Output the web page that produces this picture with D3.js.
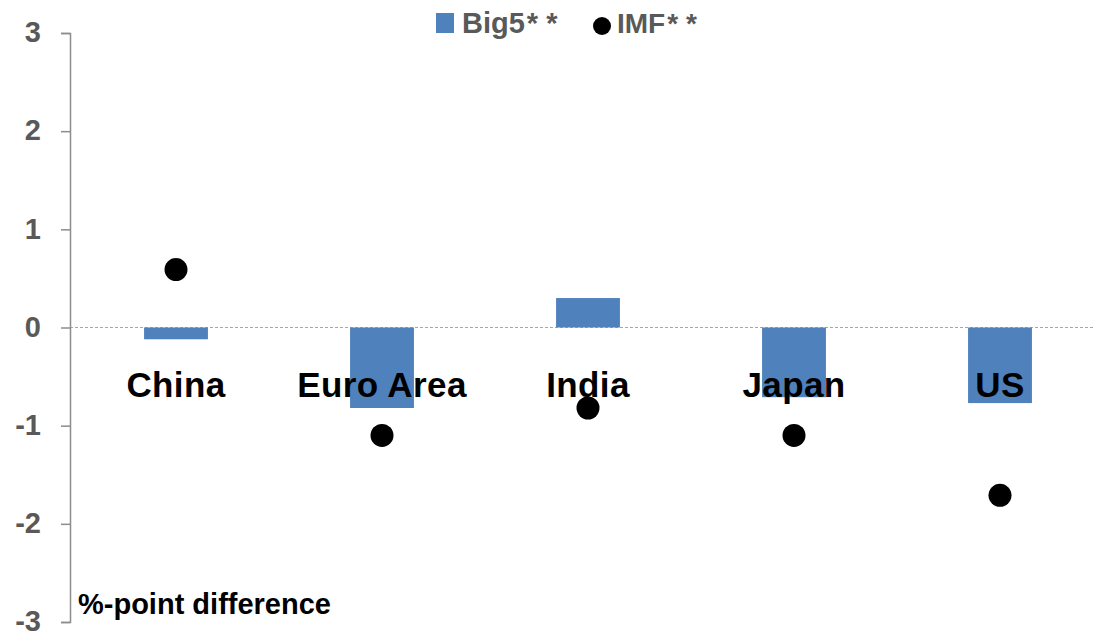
<!DOCTYPE html>
<html><head><meta charset="utf-8">
<script src="https://cdn.jsdelivr.net/npm/d3@7"></script>
<style>body{margin:0;background:#fff;} svg{display:block;font-family:"Liberation Sans",Arial,sans-serif;}</style>
</head><body><div id="chart"></div>
<script>
const categories = ["China", "Euro Area", "India", "Japan", "US"];
const big5 = [-0.12, -0.82, 0.30, -0.71, -0.77];
const imf = [0.59, -1.10, -0.82, -1.10, -1.71];
const yTicks = [-3, -2, -1, 0, 1, 2, 3];
const seriesNames = ["Big5", "IMF"];
const yLabel = "%-point difference";

const W = 1094, H = 633;
const svg = d3.select("#chart").append("svg").attr("width", W).attr("height", H);

const x = d3.scaleBand().domain(categories).range([73, 1103]).paddingInner(0.69).paddingOuter(0.345);
const y = d3.scaleLinear().domain([-3, 3]).range([622, 33]);
const axisX = 70;

// zero line
svg.append("line").attr("x1", axisX).attr("x2", W).attr("y1", y(0)).attr("y2", y(0))
  .attr("stroke", "#a6a6a6").attr("stroke-width", 1).attr("stroke-dasharray", "3,2");

// bars
svg.append("g").selectAll("rect").data(categories).join("rect")
  .attr("x", d => x(d))
  .attr("width", x.bandwidth())
  .attr("y", (d, i) => y(Math.max(0, big5[i])))
  .attr("height", (d, i) => Math.abs(y(big5[i]) - y(0)))
  .attr("fill", "#4F81BD");

// y axis
const yAxis = d3.axisLeft(y).tickValues(yTicks).tickSize(9).tickPadding(20).tickFormat(d => String(d));
const gy = svg.append("g").attr("transform", `translate(${axisX},0)`).call(yAxis);
gy.select(".domain").attr("stroke", "#8c8c8c").attr("stroke-width", 1.5);
gy.selectAll(".tick line").attr("stroke", "#8c8c8c").attr("stroke-width", 1.5);
gy.selectAll(".tick text").attr("fill", "#595959").attr("font-size", 29).attr("font-weight", "bold")
  .attr("font-family", "'Liberation Sans',Arial,sans-serif").attr("dy", "0.3em");

// category labels
svg.append("g").selectAll("text").data(categories).join("text")
  .attr("x", d => x(d) + x.bandwidth() / 2)
  .attr("y", 397)
  .attr("text-anchor", "middle")
  .attr("font-size", 35).attr("font-weight", "bold").attr("fill", "#000")
  .attr("letter-spacing", 0.4)
  .text(d => d);

// dots
svg.append("g").selectAll("circle").data(categories).join("circle")
  .attr("cx", d => x(d) + x.bandwidth() / 2)
  .attr("cy", (d, i) => y(imf[i]))
  .attr("r", 11.5)
  .attr("fill", "#000");

// legend
const lg = svg.append("g");
lg.append("rect").attr("x", 436).attr("y", 13).attr("width", 18).attr("height", 20).attr("fill", "#4F81BD");
const t1 = lg.append("text").attr("x", 462).attr("y", 33).attr("font-size", 29).attr("font-weight", "bold").attr("fill", "#595959");
t1.append("tspan").text(seriesNames[0]);
t1.append("tspan").attr("dx", 2).attr("letter-spacing", 8).text("**");
lg.append("circle").attr("cx", 602).attr("cy", 26).attr("r", 9).attr("fill", "#000");
const t2 = lg.append("text").attr("x", 617).attr("y", 33).attr("font-size", 28).attr("font-weight", "bold").attr("fill", "#595959");
t2.append("tspan").text(seriesNames[1]);
t2.append("tspan").attr("dx", 2).attr("letter-spacing", 8).text("**");

// y label
svg.append("text").attr("x", 78).attr("y", 614).attr("font-size", 29).attr("font-weight", "bold").attr("fill", "#000").text(yLabel);
</script></body></html>
